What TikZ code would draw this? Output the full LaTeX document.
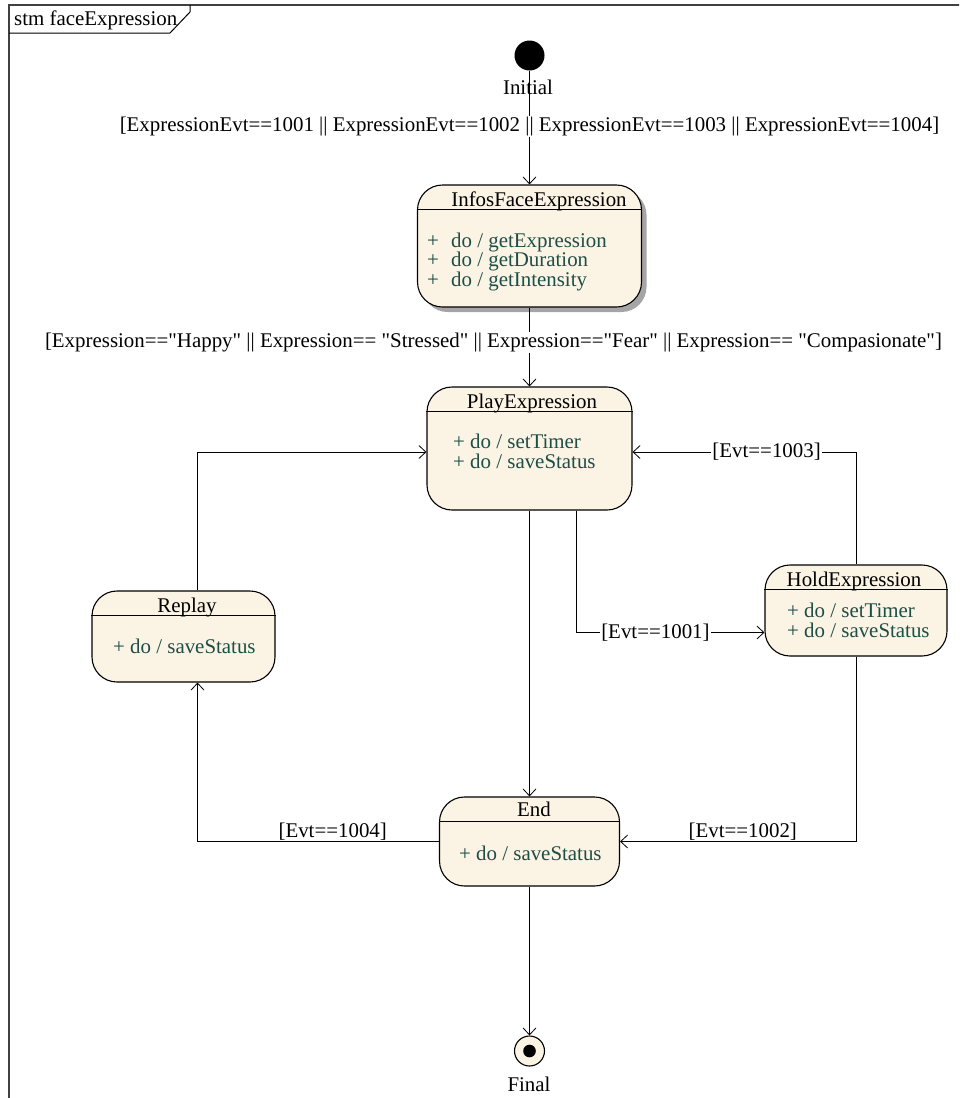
\documentclass[tikz,border=0pt]{standalone}
\usepackage{fontspec}
\setmainfont{Liberation Serif}[Ligatures=TeXOff]
\usetikzlibrary{shapes.geometric, arrows.meta, shadows}
\definecolor{statefill}{RGB}{251,243,227}
\definecolor{dotext}{RGB}{30,78,72}
\newcommand{\dq}{\symbol{34}}
\tikzstyle{statebox} = [rectangle, rounded corners=25pt, draw=black, line width=1.1pt, fill=statefill, inner sep=0pt]
\tikzstyle{statetitle} = [inner sep=0pt, anchor=base]
\tikzstyle{stateact} = [inner sep=0pt, anchor=base west, align=left, text=dotext]
\tikzstyle{guard} = [inner sep=1pt, fill=white]
\tikzstyle{arrow} = [line width=0.8pt, -{Straight Barb[length=7pt,width=13pt]}]

\begin{document}
\begin{tikzpicture}[x=1pt, y=-1pt, font=\fontsize{20.9}{19.5}\selectfont]
\clip (0,0) rectangle (959,1098);

% Frame
\draw[line width=1.5pt, black!75] (9,1120) -- (9,5) -- (980,5);
\draw[line width=1pt] (9,33) -- (170,33) -- (190,12) -- (190,5);
\node[anchor=base west, inner sep=0pt] (frametitle) at (14,25) {stm faceExpression};

% Nodes
\node (init) [circle, fill=black, minimum size=30pt, inner sep=0pt] at (529.5,55.5) {};
\node (initlabel) [statetitle] at (528,94) {Initial};
\node (infos) [statebox, minimum width=224pt, minimum height=122pt, drop shadow={shadow xshift=5pt, shadow yshift=-5pt, fill=black!70, opacity=0.5}] at (529.5,246) {};
\node (play) [statebox, minimum width=205pt, minimum height=123pt] at (529.5,448.5) {};
\node (hold) [statebox, minimum width=182pt, minimum height=91pt] at (856,610.5) {};
\node (replay) [statebox, minimum width=183pt, minimum height=91pt] at (183.5,636.5) {};
\node (endstate) [statebox, minimum width=180pt, minimum height=89pt] at (529.5,841.5) {};
\node (final) [circle, draw=black, line width=1.1pt, fill=statefill, minimum size=30pt, inner sep=0pt] at (529.5,1051) {};
\fill (final) circle (6.3);
\node (finallabel) [statetitle] at (529,1091) {Final};

\foreach \s in {infos, play, hold, replay, endstate}
  \draw[line width=1.1pt] ([yshift=-25pt]\s.north west) -- ([yshift=-25pt]\s.north east);

% Titles and activities (base = last line)
\node (infostitle) [statetitle] at (539,206) {InfosFaceExpression};
\node (playtitle) [statetitle] at (532,408) {PlayExpression};
\node (holdtitle) [statetitle] at (854,586) {HoldExpression};
\node (replaytitle) [statetitle] at (187,612) {Replay};
\node (endtitle) [statetitle] at (534,816) {End};
\node (infosact) [stateact] at (427,286) {\makebox[24pt][l]{+}do / getExpression\\\makebox[24pt][l]{+}do / getDuration\\\makebox[24pt][l]{+}do / getIntensity};
\node (playact) [stateact] at (453,468) {+ do / setTimer\\+ do / saveStatus};
\node (holdact) [stateact] at (787,637) {+ do / setTimer\\+ do / saveStatus};
\node (replayact) [stateact] at (113,653) {+ do / saveStatus};
\node (endact) [stateact] at (459,860) {+ do / saveStatus};

% Arrows
\draw [arrow] (init) -- node[guard, pos=0.49] {[ExpressionEvt==1001 || ExpressionEvt==1002 || ExpressionEvt==1003 || ExpressionEvt==1004]} (infos.north);
\draw [arrow] (infos.south) -- node[guard, pos=0.44, xshift=-36pt] {[Expression==\dq Happy\dq\ || Expression== \dq Stressed\dq\ || Expression==\dq Fear\dq\ || Expression== \dq Compasionate\dq]} (play.north);
\draw [arrow] (play.south) -- (endstate.north);
\draw [arrow] ([xshift=47pt]play.south) |- node[guard, pos=0.71] {[Evt==1001]} ([yshift=-22pt]hold.west);
\draw [arrow] (hold.north) |- node[guard, pos=0.7] {[Evt==1003]} ([yshift=-3.5pt]play.east);
\draw [arrow] ([xshift=14pt]replay.north) |- ([yshift=-3.5pt]play.west);
\draw [arrow] (hold.south) |- node[above, inner sep=1pt, pos=0.74] {[Evt==1002]} (endstate.east);
\draw [arrow] (endstate.west) -| node[above, inner sep=1pt, pos=0.22] {[Evt==1004]} ([xshift=14pt]replay.south);
\draw [arrow] (endstate.south) -- (final);

\end{tikzpicture}
\end{document}
